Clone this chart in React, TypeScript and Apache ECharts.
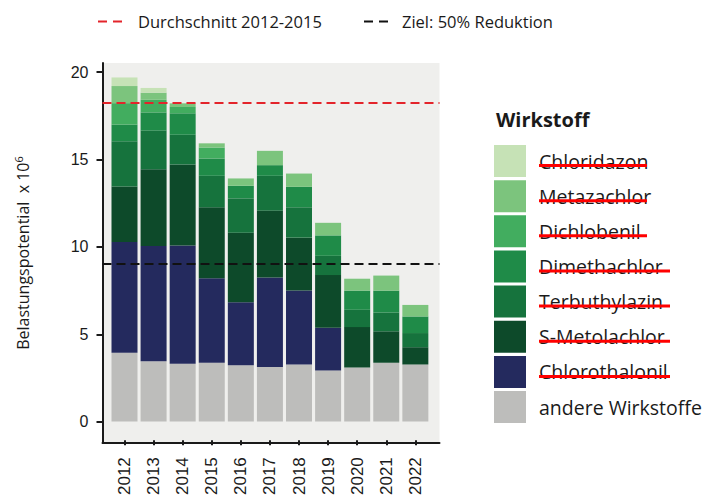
import React, { useEffect, useRef } from "react";
import * as echarts from "echarts";

// ---- data ----
const years = ["2012", "2013", "2014", "2015", "2016", "2017", "2018", "2019", "2020", "2021", "2022"];
const andere = [3.94, 3.45, 3.31, 3.37, 3.22, 3.13, 3.27, 2.93, 3.1, 3.37, 3.27];
const chlorothalonil = [6.34, 6.61, 6.77, 4.83, 3.62, 5.12, 4.23, 2.45, 0, 0, 0];
const sMetolachlor = [3.18, 4.38, 4.64, 4.07, 3.97, 3.83, 3.03, 3.01, 2.31, 1.8, 0.99];
const terbuthylazin = [2.59, 2.22, 1.7, 1.8, 1.97, 1.99, 1.74, 1.1, 0.99, 1.07, 0.81];
const dimethachlor = [0.95, 1.04, 1.23, 0.99, 0.72, 0.61, 1.17, 1.17, 1.1, 1.26, 0.95];
const dichlobenil = [1.23, 0.72, 0.36, 0.63, 0, 0, 0, 0, 0, 0, 0];
const metazachlor = [0.98, 0.41, 0.21, 0.24, 0.42, 0.82, 0.76, 0.72, 0.68, 0.86, 0.66];
const chloridazon = [0.49, 0.27, 0, 0, 0, 0, 0, 0, 0, 0, 0];

const averageLine = 18.27; // Durchschnitt 2012-2015
const targetLine = 9.14; // Ziel: 50% Reduktion
const yTicks = [0, 5, 10, 15, 20];

const lineNames = ["Durchschnitt 2012-2015", "Ziel: 50% Reduktion"];
const legendOrder = [
  "Chloridazon",
  "Metazachlor",
  "Dichlobenil",
  "Dimethachlor",
  "Terbuthylazin",
  "S-Metolachlor",
  "Chlorothalonil",
  "andere Wirkstoffe",
];
const struckNames = legendOrder.slice(0, 7);

export default function App() {
  const ref = useRef<HTMLDivElement>(null);

  useEffect(() => {
    document.body.style.margin = "0";
    const chart = echarts.init(ref.current!, null, { renderer: "svg" });

    const axisFont = "Liberation Sans, Arial, sans-serif";
    const textFont = "Open Sans, Noto Sans, sans-serif";
    const ink = "#1a1a1a";

    // geometry
    const panelLeft = 102.5;
    const panelTop = 63;
    const panelW = 337;
    const panelH = 380; // bottom 443
    const pxPerUnit = 17.6;
    const zeroY = 424.3;
    const band = 29.085;
    const firstCenter = 124.5;
    const barGridLeft = firstCenter - band / 2;
    const barGridW = band * years.length;
    const yLo = -(panelTop + panelH - zeroY) / pxPerUnit;
    const yHi = (zeroY - panelTop) / pxPerUnit;

    const stackDefs = [
      { name: "andere Wirkstoffe", data: andere, color: "#bdbdbb" },
      { name: "Chlorothalonil", data: chlorothalonil, color: "#242a5e" },
      { name: "S-Metolachlor", data: sMetolachlor, color: "#0d4a2a" },
      { name: "Terbuthylazin", data: terbuthylazin, color: "#16733d" },
      { name: "Dimethachlor", data: dimethachlor, color: "#1f8b48" },
      { name: "Dichlobenil", data: dichlobenil, color: "#42ad5f" },
      { name: "Metazachlor", data: metazachlor, color: "#7cc47d" },
      { name: "Chloridazon", data: chloridazon, color: "#c6e2b6" },
    ];

    const barSeries = stackDefs.map((s) => ({
      type: "bar",
      name: s.name,
      stack: "total",
      xAxisIndex: 1,
      yAxisIndex: 1,
      barWidth: 26,
      silent: true,
      data: s.data,
      itemStyle: { color: s.color },
    }));

    const red = "#e3242b";
    const lineSeries = [
      { name: lineNames[0], value: averageLine, color: red },
      { name: lineNames[1], value: targetLine, color: "#111111" },
    ].map((l) => ({
      type: "line",
      name: l.name,
      xAxisIndex: 0,
      yAxisIndex: 0,
      data: [],
      symbol: "none",
      silent: true,
      itemStyle: { color: l.color },
      lineStyle: { color: l.color, width: 2, type: [9, 5] },
      markLine: {
        symbol: "none",
        silent: true,
        label: { show: false },
        lineStyle: { color: l.color, width: 2, type: [9, 5] },
        data: [{ yAxis: l.value }],
      },
      z: 10,
    }));

    const legendTop = 145;
    const itemH = 32;
    const itemGap = 3.15;
    const textStart = 539;
    const strikeEnds = [647, 647, 647, 670, 670, 670, 670];
    const dashIcon = "path://M0,0h9v2h-9zM15,0h9v2h-9z";

    const lineLegend = (name: string, left: number, pad: number) => ({
      data: [name],
      left,
      top: 13,
      padding: 0,
      icon: dashIcon,
      itemWidth: 24,
      itemHeight: 2,
      selectedMode: false,
      textStyle: { fontSize: 16.5, fontFamily: textFont, color: ink, padding: [0, 0, 0, pad] },
    });

    const option: any = {
      animation: false,
      title: {
        text: "Wirkstoff",
        left: 496,
        top: 109,
        padding: 0,
        textStyle: { fontSize: 20, fontWeight: "bold", fontFamily: textFont, color: ink },
      },
      grid: [
        {
          left: panelLeft,
          top: panelTop,
          width: panelW,
          height: panelH,
          show: true,
          backgroundColor: "#efefed",
          borderWidth: 0,
        },
        {
          left: barGridLeft,
          top: panelTop,
          width: barGridW,
          height: panelH,
          show: false,
        },
      ],
      legend: [
        lineLegend(lineNames[0], 98, 11),
        lineLegend(lineNames[1], 364, 9),
        {
          data: legendOrder,
          orient: "vertical",
          left: 494,
          top: legendTop,
          padding: 0,
          itemWidth: 32,
          itemHeight: itemH,
          itemGap: itemGap,
          icon: "rect",
          selectedMode: false,
          textStyle: { fontSize: 19.5, fontFamily: textFont, color: ink, padding: [7, 0, 0, 8] },
        },
      ],
      xAxis: [
        {
          gridIndex: 0,
          type: "value",
          min: 0,
          max: 1,
          splitLine: { show: false },
          axisLine: { show: true, onZero: false, lineStyle: { color: ink, width: 2 } },
          axisTick: { show: false },
          axisLabel: { show: false },
        },
        {
          gridIndex: 1,
          type: "category",
          data: years,
          axisLine: { show: false, onZero: false },
          axisTick: { show: true, alignWithLabel: true, length: 5, lineStyle: { color: ink, width: 2 } },
          axisLabel: {
            rotate: 90,
            margin: 17,
            fontSize: 17,
            fontFamily: axisFont,
            color: ink,
          },
        },
      ],
      yAxis: [
        {
          gridIndex: 0,
          type: "value",
          min: yLo,
          max: yHi,
          splitLine: { show: false },
          axisLine: { show: true, onZero: false, lineStyle: { color: ink, width: 2 } },
          axisTick: { show: false },
          axisLabel: { show: false },
          name: "{a|Belastungspotential  x 10}{b|6}",
          nameLocation: "middle",
          nameGap: 70,
          nameRotate: 90,
          nameTextStyle: {
            rich: {
              a: { fontSize: 16, fontFamily: textFont, color: ink, lineHeight: 20 },
              b: { fontSize: 11, fontFamily: textFont, color: ink, verticalAlign: "top", lineHeight: 20 },
            },
          },
        },
        {
          gridIndex: 1,
          type: "value",
          min: yLo,
          max: yHi,
          offset: barGridLeft - panelLeft,
          splitLine: { show: false },
          axisLine: { show: false, onZero: false },
          axisTick: { show: true, customValues: yTicks, length: 6, lineStyle: { color: ink, width: 2 } },
          axisLabel: {
            customValues: yTicks,
            margin: 14,
            fontSize: 16,
            fontFamily: axisFont,
            color: ink,
          },
        },
      ],
      graphic: struckNames.map((_, k) => {
        const y = legendTop + k * (itemH + itemGap) + itemH / 2 + 4.5;
        return {
          type: "line",
          z: 100,
          silent: true,
          shape: { x1: textStart, y1: y, x2: strikeEnds[k], y2: y },
          style: { stroke: "#ff0000", lineWidth: 3 },
        };
      }),
      series: [...barSeries, ...lineSeries],
    };

    chart.setOption(option);
    return () => chart.dispose();
  }, []);

  return <div ref={ref} style={{ width: 703, height: 498 }} />;
}
